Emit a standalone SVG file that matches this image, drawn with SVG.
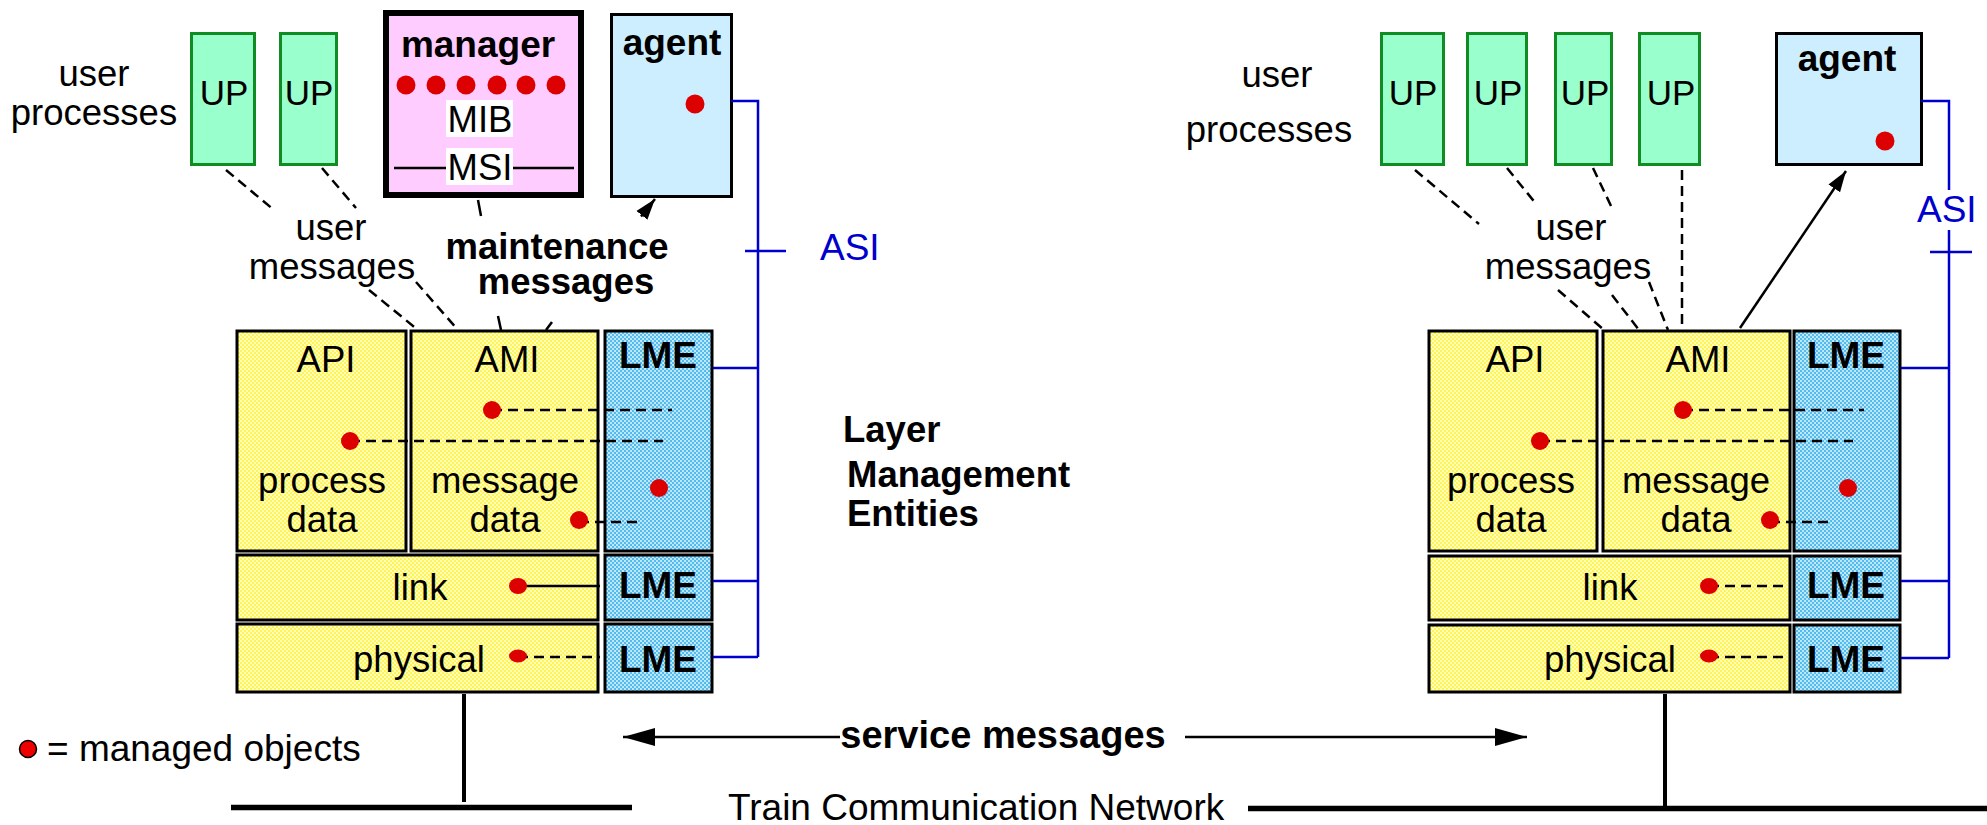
<svg xmlns="http://www.w3.org/2000/svg" width="1987" height="825" viewBox="0 0 1987 825">
  <defs>
    <!-- dithered fills of the protocol layers and the layer management entities -->
    <pattern id="ditherYellow" width="4" height="4" patternUnits="userSpaceOnUse">
      <rect width="4" height="4" fill="#fff35a"/>
      <rect width="2" height="2" fill="#ffffb8"/>
      <rect x="2" y="2" width="2" height="2" fill="#ffffb8"/>
    </pattern>
    <pattern id="ditherBlue" width="4" height="4" patternUnits="userSpaceOnUse">
      <rect width="4" height="4" fill="#52bcef"/>
      <rect width="2" height="2" fill="#bfe7fb"/>
      <rect x="2" y="2" width="2" height="2" fill="#bfe7fb"/>
    </pattern>
    <marker id="headBig" markerWidth="33" markerHeight="20" refX="32" refY="10" orient="auto" markerUnits="userSpaceOnUse">
      <path d="M0,1 L32,10 L0,19 Z" fill="#000"/>
    </marker>
    <marker id="headSmall" markerWidth="22" markerHeight="16" refX="21" refY="8" orient="auto" markerUnits="userSpaceOnUse">
      <path d="M0,1 L21,8 L0,15 Z" fill="#000"/>
    </marker>
  </defs>
  <style>
    text { font-family: "Liberation Sans", Arial, Helvetica, sans-serif; fill: #000; }
    .t { font-size: 36.5px; text-anchor: middle; }
    .b { font-size: 37px; font-weight: bold; text-anchor: middle; }
    .up { fill: #99ffcc; stroke: #118c22; stroke-width: 3; }
    .layer { fill: url(#ditherYellow); stroke: #000; stroke-width: 3; }
    .lme { fill: url(#ditherBlue); stroke: #000; stroke-width: 3; }
    .mo { fill: #dd0000; }
    .dash { stroke: #000; stroke-width: 2.5; stroke-dasharray: 10 6; fill: none; }
    .solid { stroke: #000; stroke-width: 2.5; fill: none; }
    .asi { stroke: #0000cc; stroke-width: 2.5; fill: none; }
    .net { stroke: #000; fill: none; }
  </style>
  <rect width="1987" height="825" fill="#fff"/>

  <!-- ============ left station ============ -->
  <g id="user-processes-left">
    <text class="t" x="94" y="86">user</text>
    <text class="t" x="94" y="125">processes</text>
  </g>
  <g id="up-left-1">
    <rect class="up" x="191.5" y="33.5" width="63" height="131"/>
    <text class="t" x="224" y="105" style="font-size:35px">UP</text>
  </g>
  <g id="up-left-2">
    <rect class="up" x="280.5" y="33.5" width="56" height="131"/>
    <text class="t" x="309" y="105" style="font-size:35px">UP</text>
  </g>
  <g id="manager">
    <rect x="386" y="13" width="195" height="182" fill="#ffccff" stroke="#000" stroke-width="6"/>
    <text class="b" x="478" y="57">manager</text>
    <circle class="mo" cx="406" cy="85" r="9.5"/>
    <circle class="mo" cx="436" cy="85" r="9.5"/>
    <circle class="mo" cx="466" cy="85" r="9.5"/>
    <circle class="mo" cx="497" cy="85" r="9.5"/>
    <circle class="mo" cx="526" cy="85" r="9.5"/>
    <circle class="mo" cx="556" cy="85" r="9.5"/>
    <rect x="446" y="100" width="67" height="37" fill="#fff"/>
    <text class="t" x="480" y="132">MIB</text>
    <path class="solid" d="M394,168 H446 M513,168 H574"/>
    <rect x="446" y="148" width="67" height="37" fill="#fff"/>
    <text class="t" x="480" y="180">MSI</text>
  </g>
  <g id="agent-left">
    <rect x="611.5" y="14.5" width="120" height="182" fill="#cceeff" stroke="#000" stroke-width="3"/>
    <text class="b" x="672" y="55">agent</text>
    <circle class="mo" cx="695" cy="104" r="9.5"/>
  </g>

  <g id="user-messages-left">
    <text class="t" x="331" y="240">user</text>
    <text class="t" x="332" y="279">messages</text>
  </g>
  <g id="maintenance-messages">
    <text class="b" x="557" y="259" style="font-size:36.5px">maintenance</text>
    <text class="b" x="566" y="294" style="font-size:36.5px">messages</text>
  </g>
  <g id="asi-left">
    <text x="820" y="260" style="font-size:37px; fill:#0000cc">ASI</text>
  </g>
  <g id="lme-caption">
    <text x="843" y="442" style="font-size:36.5px; font-weight:bold">Layer</text>
    <text x="847" y="487" style="font-size:36.5px; font-weight:bold">Management</text>
    <text x="847" y="526" style="font-size:36.5px; font-weight:bold">Entities</text>
  </g>

  <g id="stack-left">
    <g id="api-left">
      <rect class="layer" x="237" y="331" width="169" height="220"/>
      <text class="t" x="326" y="372">API</text>
      <text class="t" x="322" y="493">process</text>
      <text class="t" x="322" y="532">data</text>
    </g>
    <g id="ami-left">
      <rect class="layer" x="411" y="331" width="187" height="220"/>
      <text class="t" x="507" y="372">AMI</text>
      <text class="t" x="505" y="493">message</text>
      <text class="t" x="505" y="532">data</text>
    </g>
    <g id="lme-app-left">
      <rect class="lme" x="605" y="331" width="107" height="220"/>
      <text class="b" x="658" y="368">LME</text>
    </g>
    <g id="link-left">
      <rect class="layer" x="237" y="555" width="361" height="65"/>
      <text class="t" x="420" y="600">link</text>
    </g>
    <g id="physical-left">
      <rect class="layer" x="237" y="624" width="361" height="68"/>
      <text class="t" x="419" y="672">physical</text>
    </g>
    <g id="lme-link-left">
      <rect class="lme" x="605" y="555" width="107" height="65"/>
      <text class="b" x="658" y="598">LME</text>
    </g>
    <g id="lme-phys-left">
      <rect class="lme" x="605" y="624" width="107" height="68"/>
      <text class="b" x="658" y="672">LME</text>
    </g>
  </g>

  <!-- ============ right station ============ -->
  <g id="user-processes-right">
    <text class="t" x="1277" y="87">user</text>
    <text class="t" x="1269" y="142">processes</text>
  </g>
  <g id="up-right-1">
    <rect class="up" x="1381.5" y="33.5" width="62" height="131"/>
    <text class="t" x="1413" y="105" style="font-size:35px">UP</text>
  </g>
  <g id="up-right-2">
    <rect class="up" x="1467.5" y="33.5" width="59" height="131"/>
    <text class="t" x="1498" y="105" style="font-size:35px">UP</text>
  </g>
  <g id="up-right-3">
    <rect class="up" x="1555.5" y="33.5" width="56" height="131"/>
    <text class="t" x="1585" y="105" style="font-size:35px">UP</text>
  </g>
  <g id="up-right-4">
    <rect class="up" x="1639.5" y="33.5" width="60" height="131"/>
    <text class="t" x="1671" y="105" style="font-size:35px">UP</text>
  </g>
  <g id="agent-right">
    <rect x="1776.5" y="33.5" width="145" height="131" fill="#cceeff" stroke="#000" stroke-width="3"/>
    <text class="b" x="1847" y="71">agent</text>
    <circle class="mo" cx="1885" cy="141" r="9.5"/>
  </g>
  <g id="user-messages-right">
    <text class="t" x="1571" y="240">user</text>
    <text class="t" x="1568" y="279">messages</text>
  </g>
  <g id="asi-right">
    <text x="1917" y="222" style="font-size:37px; fill:#0000cc">ASI</text>
  </g>

  <g id="stack-right">
    <g id="api-right">
      <rect class="layer" x="1429" y="331" width="168" height="220"/>
      <text class="t" x="1515" y="372">API</text>
      <text class="t" x="1511" y="493">process</text>
      <text class="t" x="1511" y="532">data</text>
    </g>
    <g id="ami-right">
      <rect class="layer" x="1603" y="331" width="187" height="220"/>
      <text class="t" x="1698" y="372">AMI</text>
      <text class="t" x="1696" y="493">message</text>
      <text class="t" x="1696" y="532">data</text>
    </g>
    <g id="lme-app-right">
      <rect class="lme" x="1794" y="331" width="106" height="220"/>
      <text class="b" x="1846" y="368">LME</text>
    </g>
    <g id="link-right">
      <rect class="layer" x="1429" y="556" width="361" height="64"/>
      <text class="t" x="1610" y="600">link</text>
    </g>
    <g id="physical-right">
      <rect class="layer" x="1429" y="625" width="361" height="67"/>
      <text class="t" x="1610" y="672">physical</text>
    </g>
    <g id="lme-link-right">
      <rect class="lme" x="1794" y="556" width="106" height="64"/>
      <text class="b" x="1846" y="598">LME</text>
    </g>
    <g id="lme-phys-right">
      <rect class="lme" x="1794" y="625" width="106" height="67"/>
      <text class="b" x="1846" y="672">LME</text>
    </g>
  </g>

  <!-- ============ bus and captions ============ -->
  <g id="service-messages">
    <text class="b" x="1003" y="748" style="font-size:38px">service messages</text>
  </g>
  <g id="tcn-caption">
    <text x="728" y="820" style="font-size:37px">Train Communication Network</text>
  </g>
  <g id="legend">
    <circle cx="28" cy="749" r="8.5" fill="#ee0000" stroke="#000" stroke-width="1.5"/>
    <text x="47" y="761" style="font-size:37px">= managed objects</text>
  </g>

  <!-- ============ connectors ============ -->
  <g id="connectors">
    <!-- user messages, left -->
    <path class="dash" d="M226,170 L274,210 M369,290 L418,330"/>
    <path class="dash" d="M322,168 L356,208 M416,282 L458,330"/>
    <!-- maintenance messages, left -->
    <path class="solid" d="M478,200 L481,216 M498,316 L501,330"/>
    <path class="solid" d="M641,216.5 L655,199" marker-end="url(#headSmall)"/>
    <path class="solid" d="M546,330 L552,322"/>

    <!-- user messages, right -->
    <path class="dash" d="M1415,170 L1479,224 M1558,290 L1604,330"/>
    <path class="dash" d="M1507,168 L1537,205 M1612,295 L1639,330"/>
    <path class="dash" d="M1593,168 L1612,208 M1649,282 L1668,330"/>
    <path class="dash" d="M1682,170 V330"/>
    <!-- maintenance messages, right -->
    <path class="solid" d="M1740,328 L1846,171" marker-end="url(#headSmall)"/>

    <!-- managed object links inside the left stack -->
    <path class="dash" d="M492,410 H672"/>
    <path class="dash" d="M350,441 H663"/>
    <path class="dash" d="M579,522 H640"/>
    <path class="solid" d="M518,586 H600"/>
    <path class="dash" d="M518,657 H600"/>
    <!-- managed object links inside the right stack -->
    <path class="dash" d="M1683,410 H1864"/>
    <path class="dash" d="M1540,441 H1853"/>
    <path class="dash" d="M1770,522 H1831"/>
    <path class="dash" d="M1709,586 H1791"/>
    <path class="dash" d="M1709,657 H1791"/>

    <!-- agent service interface, left -->
    <path class="asi" d="M731,101 H758 V657 M745,251 H786 M713,368 H758 M713,581 H758 M713,657 H758"/>
    <!-- agent service interface, right -->
    <path class="asi" d="M1921,101 H1949 V190 M1949,230 V658 M1930,252 H1972 M1901,368 H1949 M1901,581 H1949 M1901,658 H1949"/>

    <!-- bus attachments and the network line -->
    <path class="net" stroke-width="4" d="M464,694 V802"/>
    <path class="net" stroke-width="4" d="M1665,694 V807"/>
    <path class="net" stroke-width="5.5" d="M231,807.5 H632"/>
    <path class="net" stroke-width="5.5" d="M1248,808.5 H1987"/>
    <!-- service messages -->
    <path class="solid" d="M840,737 H623" marker-end="url(#headBig)"/>
    <path class="solid" d="M1185,737 H1527" marker-end="url(#headBig)"/>
  </g>

  <!-- managed objects drawn over their links -->
  <g id="managed-objects">
    <circle class="mo" cx="492" cy="410" r="9"/>
    <circle class="mo" cx="350" cy="441" r="9"/>
    <circle class="mo" cx="659" cy="488" r="9"/>
    <circle class="mo" cx="579" cy="520" r="9"/>
    <ellipse class="mo" cx="518" cy="586" rx="9" ry="8"/>
    <ellipse class="mo" cx="518" cy="656" rx="9" ry="6.5"/>
    <circle class="mo" cx="1683" cy="410" r="9"/>
    <circle class="mo" cx="1540" cy="441" r="9"/>
    <circle class="mo" cx="1848" cy="488" r="9"/>
    <circle class="mo" cx="1770" cy="520" r="9"/>
    <ellipse class="mo" cx="1709" cy="586" rx="9" ry="8"/>
    <ellipse class="mo" cx="1709" cy="656" rx="9" ry="6.5"/>
  </g>
</svg>
